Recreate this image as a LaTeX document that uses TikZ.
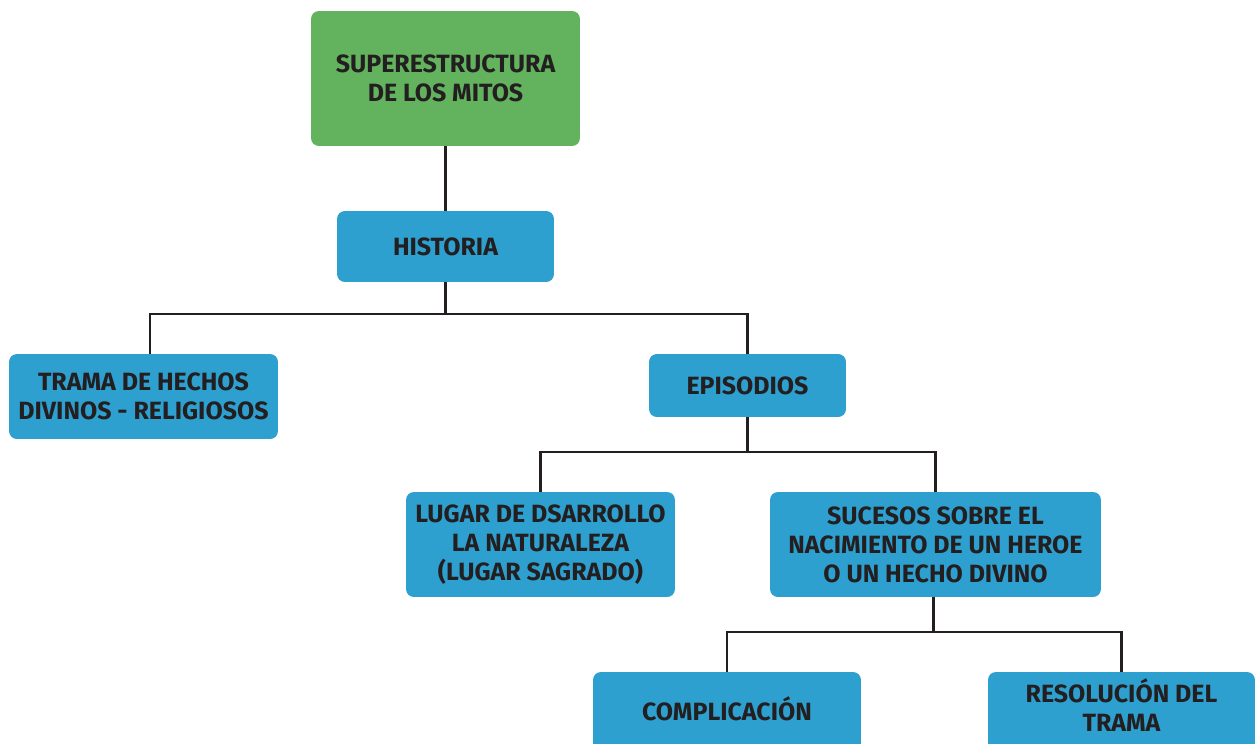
\documentclass[tikz,border=0pt]{standalone}
\usepackage{fontspec}
\setmainfont{Fira Sans}
\usetikzlibrary{positioning}
\definecolor{verde}{HTML}{62B25E}
\definecolor{azul}{HTML}{2DA0D0}
\definecolor{tinta}{HTML}{231F20}

\begin{document}
\begin{tikzpicture}[x=0.02cm, y=-0.02cm,
        caja/.style={fill=azul, rounded corners=4.5pt, text=tinta, align=center,
            font=\fontsize{14.2}{16.5}\selectfont\bfseries, inner sep=0pt},
        rama/.style={draw=tinta, line width=1.3pt}]
        \useasboundingbox (0,0) rectangle (1255,744);
        
        \node[caja, fill=verde, minimum width=5.38cm, minimum height=2.7cm] (mitos) at (445.5,78.5) {SUPERESTRUCTURA\\DE LOS MITOS};
        \node[caja, minimum width=4.34cm, minimum height=1.42cm] (historia) at (445.5,246.5) {HISTORIA};
        \node[caja, minimum width=5.38cm, minimum height=1.7cm] (trama) at (143.5,396.5) {TRAMA DE HECHOS\\DIVINOS - RELIGIOSOS};
        \node[caja, minimum width=3.94cm, minimum height=1.26cm] (episodios) at (747.5,385.5) {EPISODIOS};
        \node[caja, minimum width=5.38cm, minimum height=2.1cm] (lugar) at (540.5,544.5) {LUGAR DE DSARROLLO\\LA NATURALEZA\\ (LUGAR SAGRADO)};
        \node[caja, minimum width=6.62cm, minimum height=2.1cm] (sucesos) at (935.5,544.5) {SUCESOS SOBRE EL\\NACIMIENTO DE UN HEROE\\O UN HECHO DIVINO};
        \node[caja, minimum width=5.36cm, minimum height=1.84cm, text depth=0pt] (complicacion) at (727,718) {\raisebox{0.38cm}{COMPLICACIÓN}};
        \node[caja, minimum width=5.34cm, minimum height=1.84cm] (resolucion) at (1121.5,718) {\raisebox{0.82cm}{\begin{tabular}{@{}c@{}}RESOLUCIÓN DEL\\TRAMA\end{tabular}}};
        
        \draw[rama] (mitos) -- (historia);
        \draw[rama] (historia.south) -- ++(0,32) -| ([xshift=0.13cm]trama.north);
        \draw[rama] (historia.south) -- ++(0,32) -| (episodios.north);
        \draw[rama] (episodios.south) -- ++(0,35) -| (lugar.north);
        \draw[rama] (episodios.south) -- ++(0,35) -| (sucesos.north);
        \draw[rama] (sucesos.south) ++(-2,0) -- ++(0,35) -| (complicacion.north);
        \draw[rama] (sucesos.south) ++(-2,0) -- ++(0,35) -| (resolucion.north);
    \end{tikzpicture}
\end{document}
